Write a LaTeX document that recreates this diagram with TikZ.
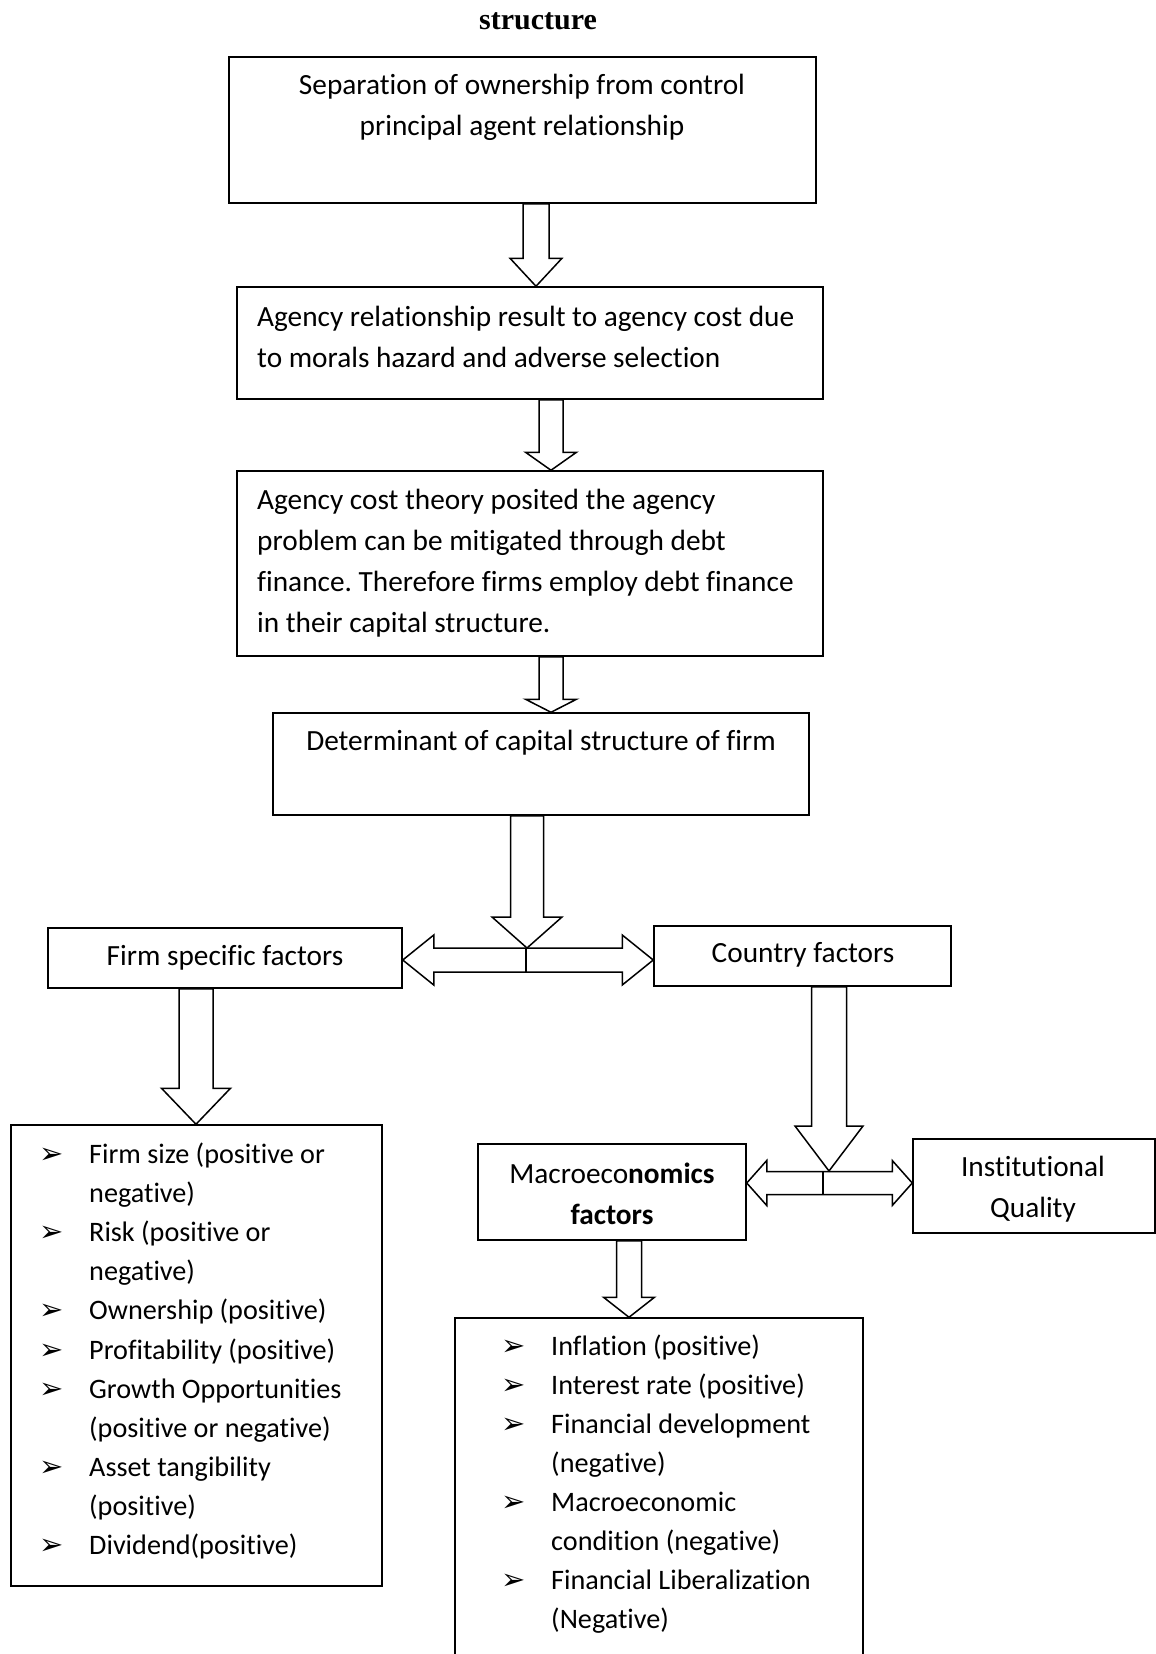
\documentclass[tikz,border=0pt]{standalone}
\usepackage{fontspec}
\setmainfont{Carlito}[Ligatures={NoCommon}]
\newfontfamily\titlefont{Liberation Serif}
\newfontfamily\symfont{DejaVu Sans}
\usetikzlibrary{calc}
\frenchspacing
\newcommand\blt{\makebox[50pt][l]{\symfont\fontsize{29}{29}\selectfont ➢}}
\newcommand\ind{\hspace*{50pt}}
% vertical block arrow: #1 start, #2 end, #3 x, #4 shaft half, #5 head half, #6 head length
\newcommand\blkdown[6]{%
  \draw[blk] let \p1=(#1), \p2=(#2) in
    (#3pt-#4pt,\y1) -- (#3pt+#4pt,\y1) -- (#3pt+#4pt,\y2+#6pt) -- (#3pt+#5pt,\y2+#6pt)
    -- (#3pt,\y2) -- (#3pt-#5pt,\y2+#6pt) -- (#3pt-#4pt,\y2+#6pt) -- cycle;}
% horizontal double block arrow: #1 left end, #2 right end, #3 y, #4 shaft half, #5 head half, #6 head length
\newcommand\blkboth[6]{%
  \draw[blk] let \p1=(#1), \p2=(#2) in
    (\x1,-#3pt) -- (\x1+#6pt,-#3pt+#5pt) -- (\x1+#6pt,-#3pt+#4pt) -- (\x2-#6pt,-#3pt+#4pt)
    -- (\x2-#6pt,-#3pt+#5pt) -- (\x2,-#3pt) -- (\x2-#6pt,-#3pt-#5pt) -- (\x2-#6pt,-#3pt-#4pt)
    -- (\x1+#6pt,-#3pt-#4pt) -- (\x1+#6pt,-#3pt-#5pt) -- cycle;}
\tikzset{
  box/.style={draw, line width=1.5pt, inner sep=0pt, rectangle},
  txt/.style={font=\fontsize{29.3}{41}\selectfont, inner sep=0pt},
  ltxt/.style={font=\fontsize{28.2}{39.1}\selectfont, inner sep=0pt, align=left},
  blk/.style={draw, line width=1.5pt, fill=white, line join=miter},
  stem/.style={draw, line width=1.5pt},
}
\begin{document}
\begin{tikzpicture}[x=1pt,y=-1pt]
\useasboundingbox (0,0) rectangle (1156,1654);
\fill[white] (0,0) rectangle (1156,1654);

\node[font=\titlefont\bfseries\fontsize{30}{30}\selectfont, anchor=base, inner sep=0pt] (title) at (538,30) {structure};

% boxes
\node[box, minimum width=587pt, minimum height=146pt] (b1) at (522.5,130) {};
\node[box, minimum width=586pt, minimum height=112pt] (b2) at (530,343) {};
\node[box, minimum width=586pt, minimum height=185pt] (b3) at (530,563.5) {};
\node[box, minimum width=536pt, minimum height=102pt] (b4) at (541,764) {};
\node[box, minimum width=354pt, minimum height=60pt] (firm) at (225,958) {};
\node[box, minimum width=297pt, minimum height=60pt] (country) at (802.5,956) {};
\node[box, minimum width=371pt, minimum height=461pt] (fl) at (196.5,1355.5) {};
\node[box, minimum width=268pt, minimum height=96pt] (macro) at (612,1192) {};
\node[box, minimum width=242pt, minimum height=94pt] (inst) at (1034,1186) {};
\node[box, minimum width=408pt, minimum height=362pt] (ml) at (659,1499) {};

% texts
\node[txt, align=center] (t1) at (522,107) {Separation of ownership from control\\principal agent relationship};
\node[txt, align=left, anchor=west] (t2) at (257,337) {Agency relationship result to agency cost due\\to morals hazard and adverse selection};
\node[txt, align=left, anchor=west] (t3) at (257,563) {Agency cost theory posited the agency\\problem can be mitigated through debt\\finance. Therefore firms employ debt finance\\in their capital structure.};
\node[txt] (t4) at (541,743) {Determinant of capital structure of firm};
\node[txt] (t5) at (225,958) {Firm specific factors};
\node[txt] (t6) at (803,955) {Country factors};
\node[txt, align=center] (t7) at (612,1194) {Macroeco\textbf{nomics}\\\textbf{factors}};
\node[txt, align=center] (t8) at (1033,1189) {Institutional\\Quality};

\node[ltxt, anchor=west] (tfl) at (39,1351) {\blt Firm size (positive or\\\ind negative)\\\blt Risk (positive or\\\ind negative)\\\blt Ownership (positive)\\\blt Profitability (positive)\\\blt Growth Opportunities\\\ind (positive or negative)\\\blt Asset tangibility\\\ind (positive)\\\blt Dividend(positive)};
\node[ltxt, anchor=west] (tml) at (501,1484) {\blt Inflation (positive)\\\blt Interest rate (positive)\\\blt Financial development\\\ind (negative)\\\blt Macroeconomic\\\ind condition (negative)\\\blt Financial Liberalization\\\ind (Negative)};

% junctions
\coordinate (j1) at (527,948);
\coordinate (j1a) at (526,948);
\coordinate (j1b) at (526,972);
\coordinate (j2) at (829,1171);
\coordinate (j2a) at (823,1171);
\coordinate (j2b) at (823,1194);

% arrows
\blkdown{b1.south}{b2.north}{536}{13}{26}{28}
\blkdown{b2.south}{b3.north}{551}{12}{25.5}{18}
\blkdown{b3.south}{b4.north}{551}{12}{25.5}{13}
\blkboth{firm.east}{country.west}{960}{12}{25}{31}
\blkdown{b4.south}{j1}{527}{16.5}{35}{31}
\draw[stem] (j1a) -- (j1b);
\blkdown{firm.south}{fl.north}{196}{17}{34.5}{36}
\blkboth{macro.east}{inst.west}{1183}{11.5}{22.5}{20}
\blkdown{country.south}{j2}{829}{17.5}{34}{45}
\draw[stem] (j2a) -- (j2b);
\blkdown{macro.south}{ml.north}{629}{12.5}{25.5}{20}
\end{tikzpicture}
\end{document}
